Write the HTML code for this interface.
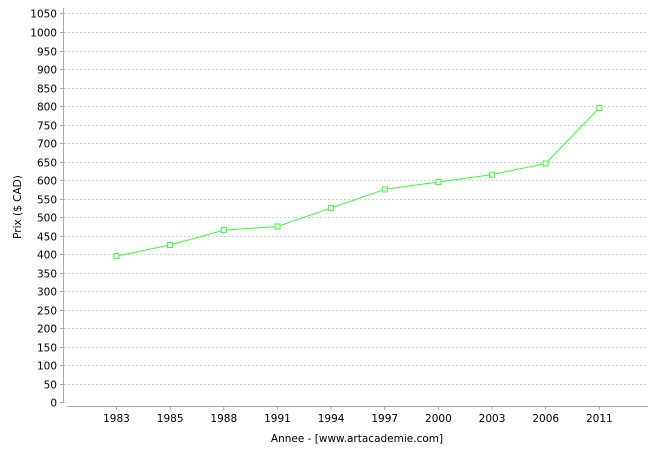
<!DOCTYPE html>
<html><head><style>body{margin:0;background:#fff}svg{display:block}</style></head><body>
<svg width="660" height="450" xmlns="http://www.w3.org/2000/svg" font-family="'DejaVu Sans','Liberation Sans',sans-serif" font-size="10.5">
<rect width="660" height="450" fill="#fff"/>
<g id="grid" stroke="#cfcfcf" stroke-width="1" stroke-dasharray="2,2"></g>
<g id="yl" fill="#000" text-anchor="end"></g>
<line x1="63.5" y1="8" x2="63.5" y2="403" stroke="#aaa"/>
<line x1="67" y1="406.5" x2="648" y2="406.5" stroke="#aaa"/>
<g id="xl" fill="#000" text-anchor="middle"></g>
<polyline id="ln" fill="none" stroke="#33ff33" stroke-width="1"/>
<g id="pts" fill="#fff" stroke="#33ff33"></g>
<text x="357" y="442" text-anchor="middle">Annee - [www.artacademie.com]</text>
<text transform="translate(21,207) rotate(-90)" text-anchor="middle">Prix ($ CAD)</text>
</svg>
<script>
var ns="http://www.w3.org/2000/svg";
function el(p,t,a,tx){var e=document.createElementNS(ns,t);for(var k in a)e.setAttribute(k,a[k]);if(tx!=null)e.textContent=tx;document.getElementById(p).appendChild(e);}
function Y(v){return 402.4-v*18.52/50;}
for(var v=0;v<=1050;v+=50){var y=Math.round(Y(v))+0.5;
if(v>0)el('grid','line',{x1:64,x2:648,y1:y,y2:y});
el('grid','line',{x1:60,x2:63,y1:y,y2:y,'stroke-dasharray':'none',stroke:'#aaa'});
el('yl','text',{x:57,y:y+4},v);}
var yrs=[1983,1985,1988,1991,1994,1997,2000,2003,2006,2011],vals=[395,425,465,475,525,575,595,615,645,795],pts=[];
for(var i=0;i<10;i++){var x=116.5+i*53.65;
el('xl','line',{x1:x,x2:x,y1:407,y2:410,stroke:'#aaa'});
el('xl','text',{x:x,y:422},yrs[i]);
pts.push(x+','+Y(vals[i]));}
document.getElementById('ln').setAttribute('points',pts.join(' '));
for(var i=0;i<10;i++){var p=pts[i].split(',');el('pts','rect',{x:+p[0]-2.5,y:+p[1]-2.5,width:5,height:5});}
</script>
</body></html>
